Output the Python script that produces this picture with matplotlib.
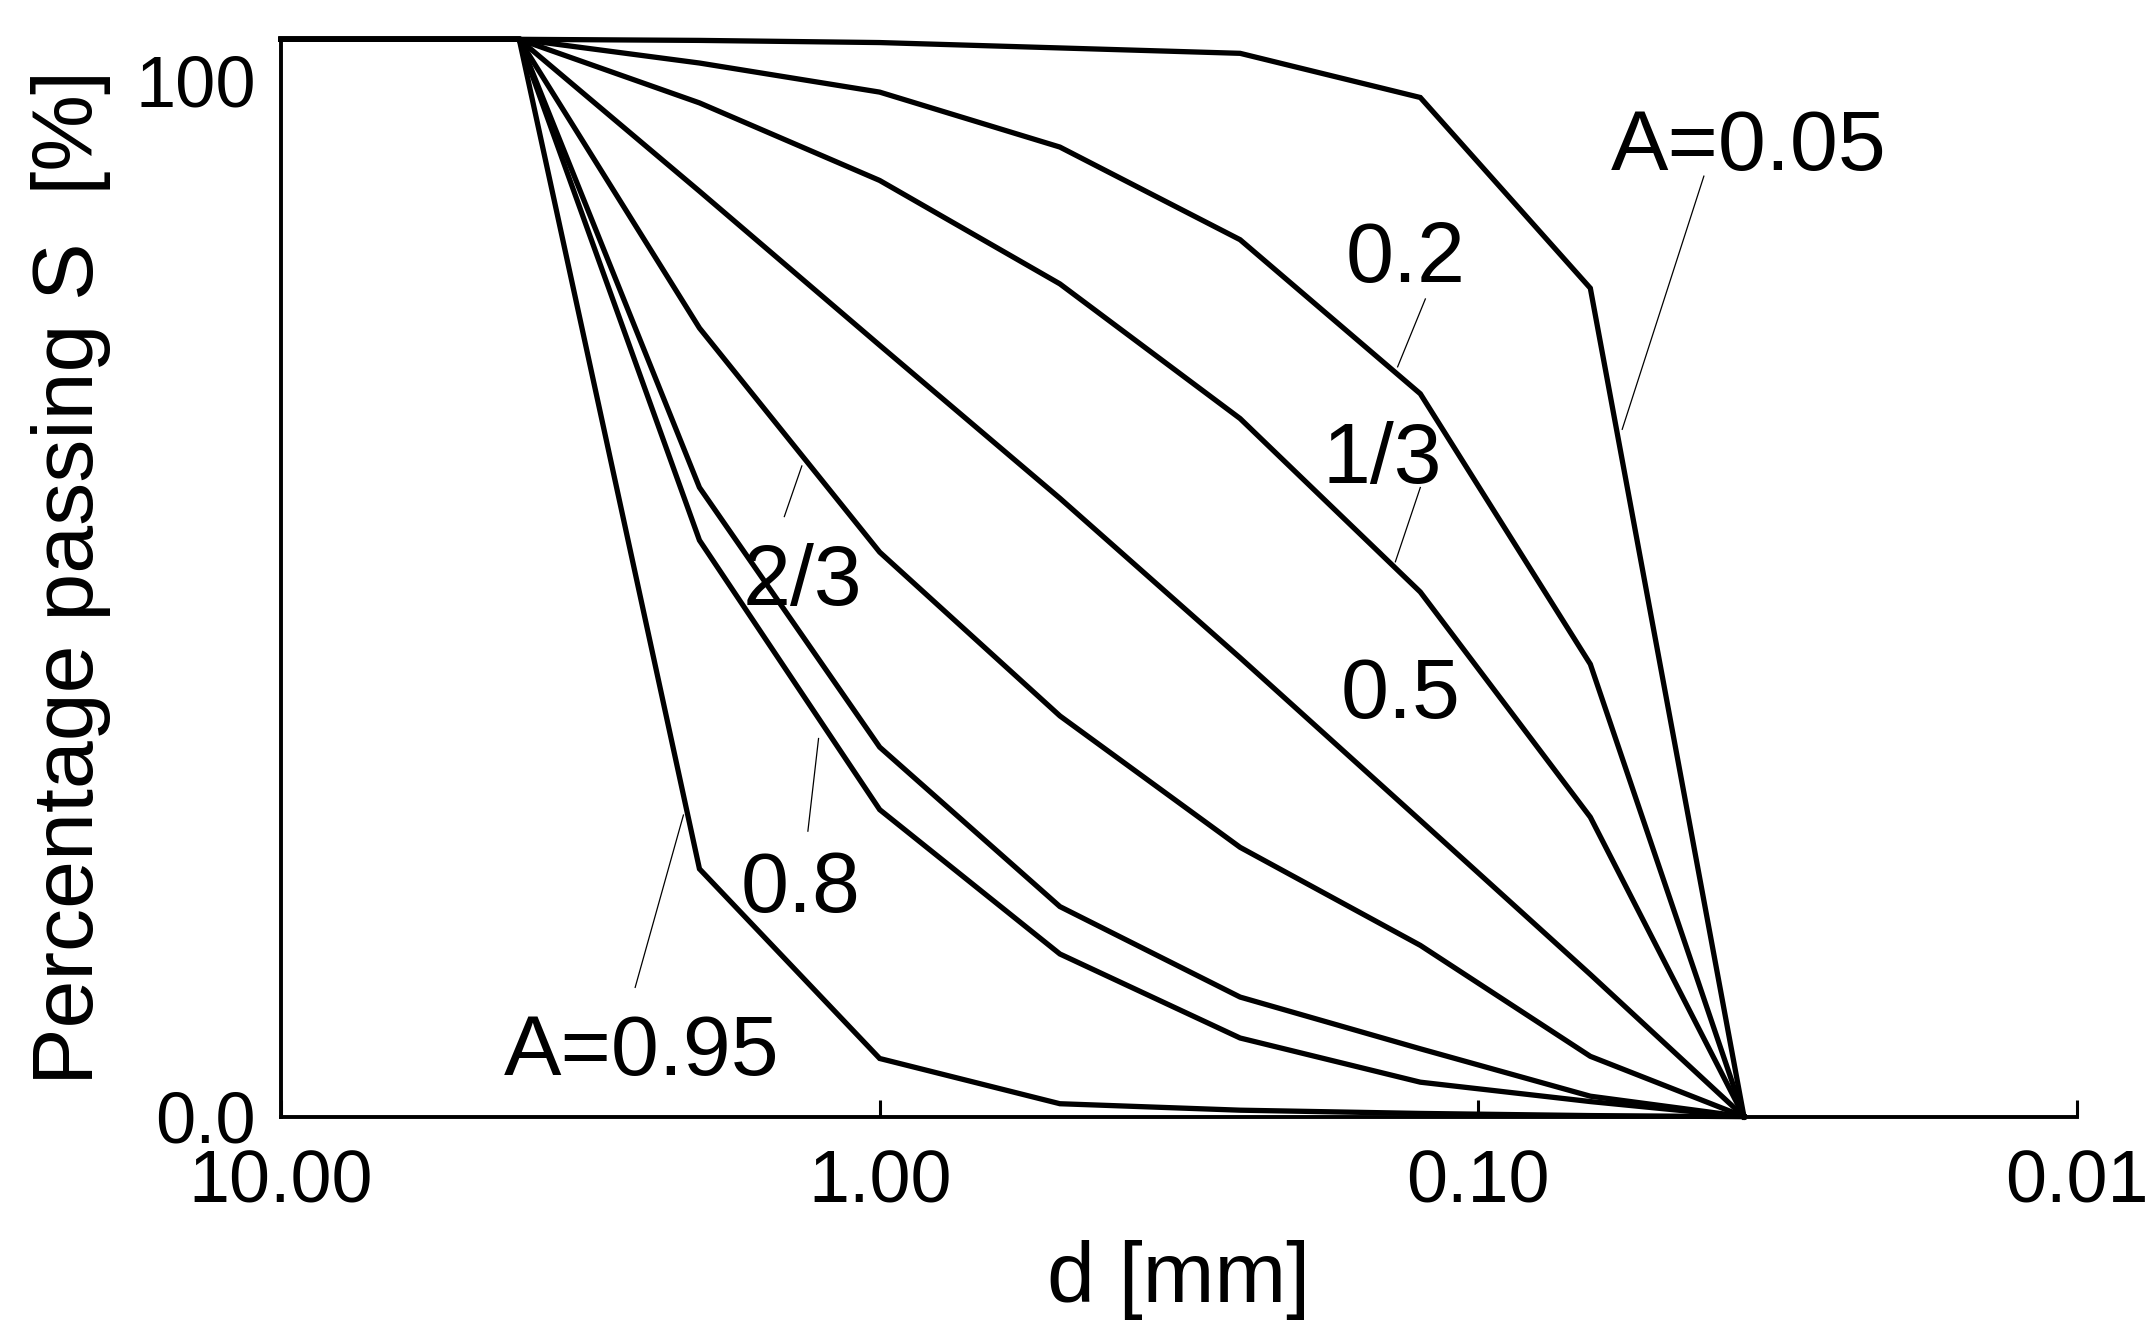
import matplotlib
matplotlib.use('Agg')
import matplotlib.pyplot as plt
import matplotlib.ticker as ticker
import matplotlib.transforms as mtransforms

plt.rcParams['font.family'] = ['Liberation Sans', 'DejaVu Sans']

# sieve sizes [mm]
d_mm = [10, 4, 2, 1, 0.5, 0.25, 0.125, 0.065, 0.036]

# percentage passing S [%] for each curve
s_a005 = [100, 100, 99.9, 99.7, 99.2, 98.7, 94.6, 76.9, 0]
s_a020 = [100, 100, 97.8, 95.1, 90.0, 81.4, 67.1, 42.0, 0]
s_a033 = [100, 100, 94.1, 86.9, 77.3, 64.8, 48.7, 27.8, 0]
s_a050 = [100, 100, 85.9, 71.6, 57.4, 42.6, 27.5, 13.2, 0]
s_a067 = [100, 100, 73.2, 52.4, 37.2, 25.0, 15.9, 5.6, 0]
s_a075 = [100, 100, 58.4, 34.3, 19.5, 11.1, 6.3, 1.9, 0]
s_a080 = [100, 100, 53.5, 28.5, 15.1, 7.3, 3.2, 1.4, 0]
s_a095 = [100, 100, 23.0, 5.4, 1.2, 0.6, 0.3, 0.1, 0]

curves = [s_a005, s_a020, s_a033, s_a050, s_a067, s_a075, s_a080, s_a095]

x_ticks = [10, 1, 0.1, 0.01]
x_tick_labels = ['10.00', '1.00', '0.10', '0.01']
y_ticks = [0, 100]
y_tick_labels = ['0.0', '100']

# curve labels: text, text position (d, S baseline), leader line ((d0, S0), (d1, S1)) or None
labels = [
    ('A=0.05', (0.0354, 87.9), ((0.0420, 87.3), (0.0575, 63.8))),
    ('0.2', (0.1324, 77.5), ((0.1226, 75.9), (0.1364, 69.6))),
    ('1/3', (0.1449, 58.8), ((0.1250, 58.4), (0.1376, 51.5))),
    ('0.5', (0.1350, 37.0), None),
    ('2/3', (1.345, 47.5), ((1.349, 60.4), (1.443, 55.7))),
    ('0.8', (1.358, 19.0), ((1.265, 35.1), (1.318, 26.5))),
    ('A=0.95', (2.497, 3.9), ((2.127, 28.0), (2.561, 12.0))),
]

fig = plt.figure(figsize=(21.55, 13.33), dpi=100)
ax = fig.add_axes([0.1304, 0.1623, 0.8334, 0.8082])

for s in curves:
    ax.plot(d_mm, s, color='black', linewidth=3.8, clip_on=False, solid_joinstyle='miter')

for text, (tx, ty), leader in labels:
    ax.text(tx, ty, text, fontsize=62, ha='center', va='baseline')
    if leader:
        ax.plot([leader[0][0], leader[1][0]], [leader[0][1], leader[1][1]],
                color='black', linewidth=0.9, clip_on=False)

ax.set_xscale('log')
ax.set_xlim(10, 0.01)
ax.set_ylim(0, 100)
ax.xaxis.set_major_locator(ticker.FixedLocator(x_ticks))
ax.xaxis.set_major_formatter(ticker.FixedFormatter(x_tick_labels))
ax.xaxis.set_minor_locator(ticker.NullLocator())
ax.yaxis.set_major_locator(ticker.FixedLocator(y_ticks))
ax.yaxis.set_major_formatter(ticker.FixedFormatter(y_tick_labels))

ax.tick_params(axis='x', direction='in', length=12, width=2.2, labelsize=53, pad=23)
ax.tick_params(axis='y', length=0, labelsize=52, pad=18)

# the "100" label sits a bit below the top in the original
fig.canvas.draw()
offset = mtransforms.ScaledTranslation(0, -0.41, fig.dpi_scale_trans)
for lbl in ax.get_yticklabels():
    if lbl.get_text() == '100':
        lbl.set_transform(lbl.get_transform() + offset)

for side in ['top', 'right']:
    ax.spines[side].set_visible(False)
for side in ['left', 'bottom']:
    ax.spines[side].set_linewidth(2.8)

ax.set_xlabel('d [mm]', fontsize=62)
ax.set_ylabel('Percentage passing S  [%]', fontsize=62)
ax.xaxis.set_label_coords(0.5, -0.1144)
ax.yaxis.set_label_coords(-0.0947, 0.5)

fig.savefig('out.png', dpi=100)
